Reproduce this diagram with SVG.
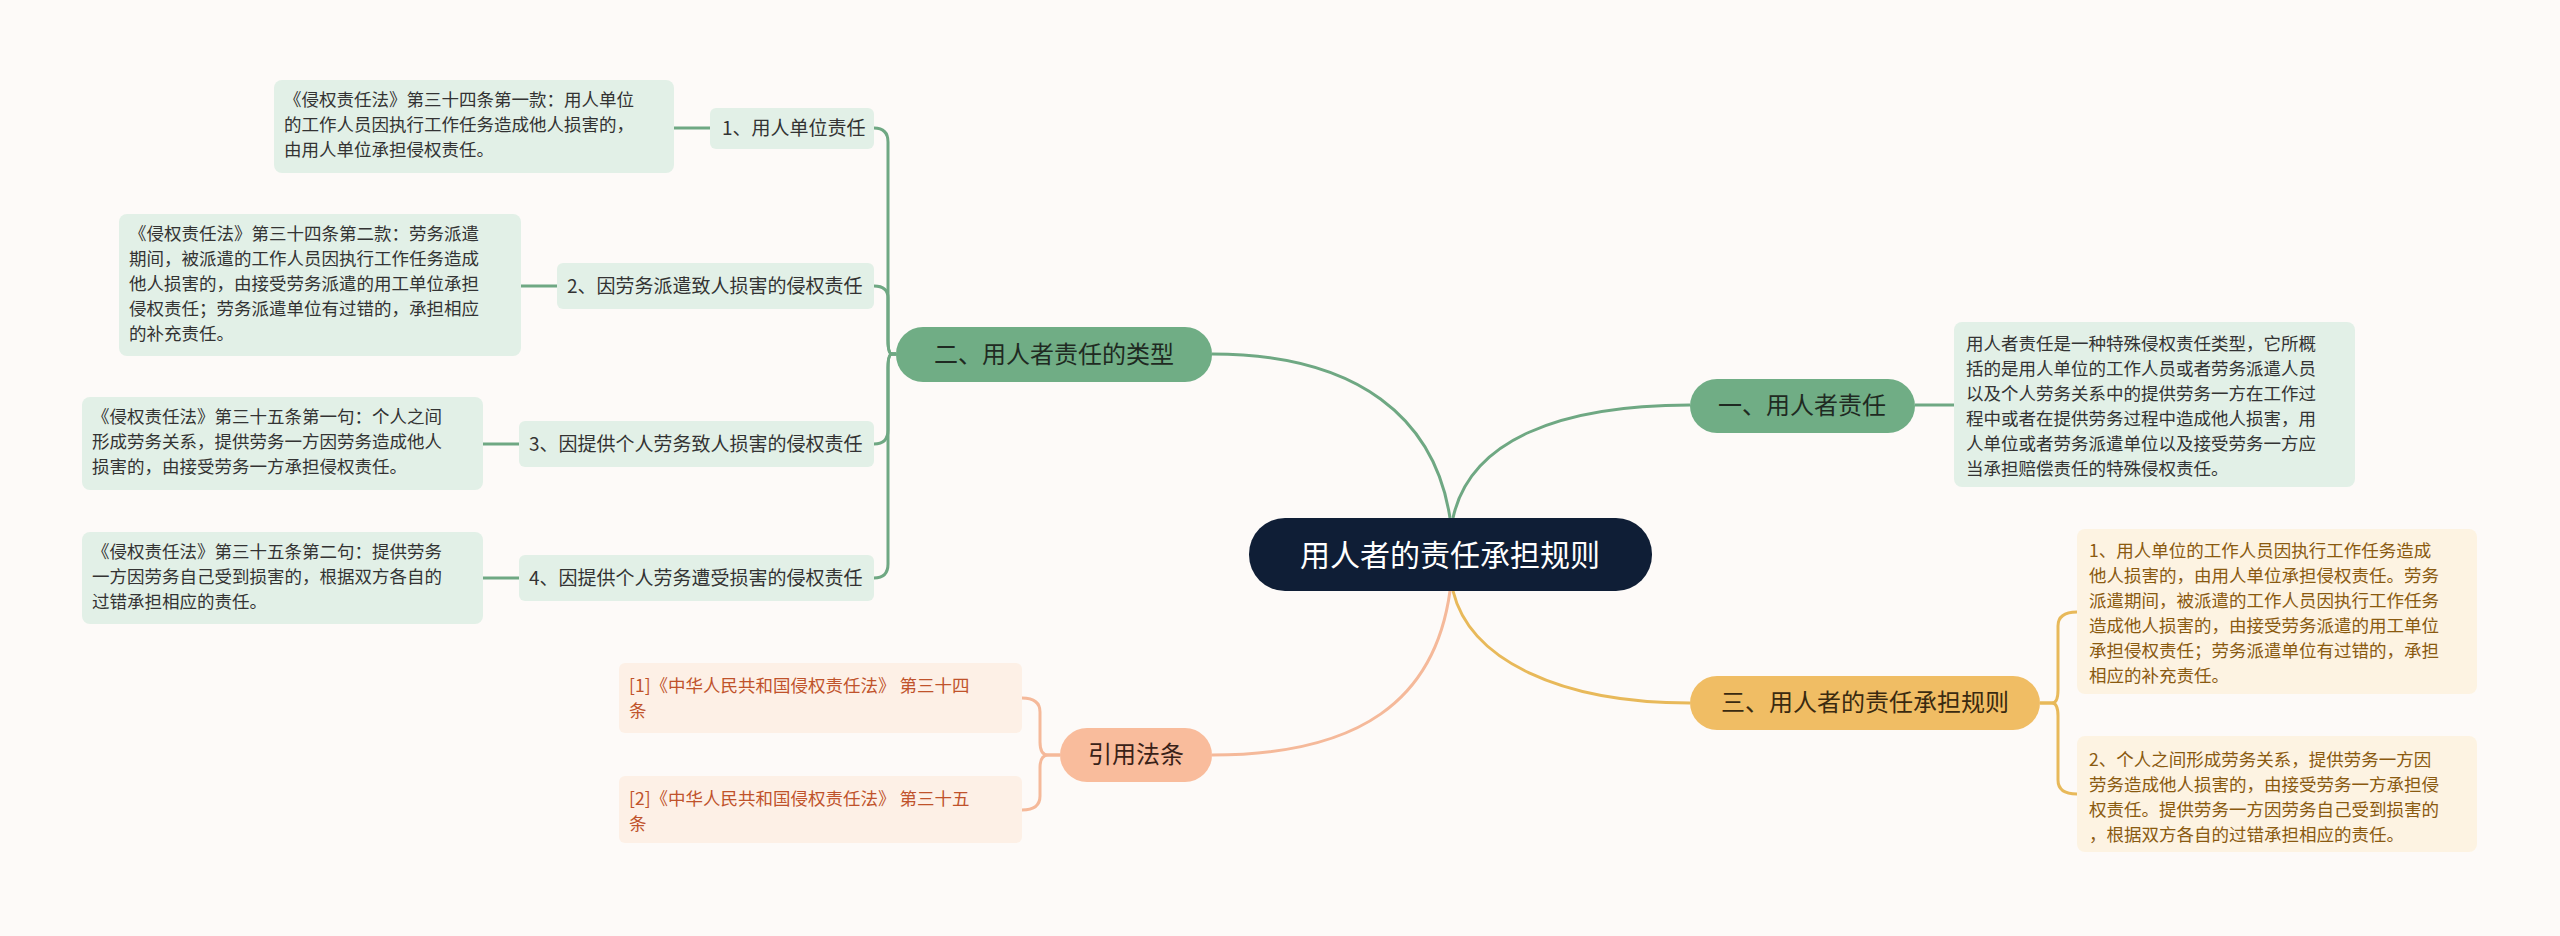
<svg xmlns="http://www.w3.org/2000/svg" width="2560" height="936" viewBox="0 0 2560 936">
<style>
text{font-family:"Noto Sans CJK SC","Noto Sans",sans-serif;}
.g{fill:none;stroke:#6fa883;stroke-width:3}
.o{fill:none;stroke:#e8b95a;stroke-width:3}
.s{fill:none;stroke:#f5b99a;stroke-width:3}
.leaf rect{fill:#e2f0e7}
.leaf text{font-size:19px;fill:#333}
.desc rect{fill:#e2f0e7}
.desc text{font-size:17.5px;fill:#333}
.odesc rect{fill:#fdf3e2}
.odesc text{font-size:17.5px;fill:#8a5a10}
.ref rect{fill:#fdf0e6}
.ref text{font-size:17.5px;fill:#c0532b}
</style>
<rect width="2560" height="936" fill="#fdfaf8"/>
<g id="connectors">
<path class="g" d="M1453,518 C1470,440 1560,405 1690,405"/>
<path class="g" d="M1450,518 C1435,420 1360,354 1212,354"/>
<path class="o" d="M1453,591 C1470,660 1560,703 1690,703"/>
<path class="s" d="M1450,591 C1435,700 1360,755 1212,755"/>
<path class="g" d="M1915,405 H1954"/>
<path class="o" d="M2040,703 H2052 Q2058,703 2058,690 V626 Q2058,612 2077,612"/>
<path class="o" d="M2040,703 H2052 Q2058,703 2058,716 V780 Q2058,794 2077,794"/>
<path class="g" d="M896,354 H892 Q888,354 888,340 V142 Q888,128 874,128"/>
<path class="g" d="M896,354 H892 Q888,354 888,340 V298 Q888,286 874,286"/>
<path class="g" d="M896,354 H892 Q888,354 888,368 V430 Q888,444 874,444"/>
<path class="g" d="M896,354 H892 Q888,354 888,368 V564 Q888,578 874,578"/>
<path class="g" d="M710,128 H674"/>
<path class="g" d="M557,286 H521"/>
<path class="g" d="M519,444 H483"/>
<path class="g" d="M519,578 H483"/>
<path class="s" d="M1060,755 H1048 Q1040,755 1040,742 V712 Q1040,698 1022,698"/>
<path class="s" d="M1060,755 H1048 Q1040,755 1040,768 V796 Q1040,810 1022,810"/>
</g>
<g id="root"><rect x="1249" y="518" width="403" height="73" rx="36" fill="#0f1e36"/><text x="1450" y="566" font-size="30" fill="#fff" text-anchor="middle">用人者的责任承担规则</text></g>
<g id="b1"><rect x="1690" y="379" width="225" height="54" rx="27" fill="#70ad85"/><text x="1802" y="414" font-size="24" fill="#1f2a22" text-anchor="middle">一、用人者责任</text></g>
<g id="b1d" class="desc"><rect x="1954" y="322" width="401" height="165" rx="8"/>
<text x="1966" y="350">用人者责任是一种特殊侵权责任类型，它所概</text>
<text x="1966" y="375">括的是用人单位的工作人员或者劳务派遣人员</text>
<text x="1966" y="400">以及个人劳务关系中的提供劳务一方在工作过</text>
<text x="1966" y="425">程中或者在提供劳务过程中造成他人损害，用</text>
<text x="1966" y="450">人单位或者劳务派遣单位以及接受劳务一方应</text>
<text x="1966" y="475">当承担赔偿责任的特殊侵权责任。</text></g>
<g id="b3"><rect x="1690" y="676" width="350" height="54" rx="27" fill="#f0bd64"/><text x="1865" y="711" font-size="24" fill="#3a2a10" text-anchor="middle">三、用人者的责任承担规则</text></g>
<g id="b3d1" class="odesc"><rect x="2077" y="529" width="400" height="165" rx="8"/>
<text x="2089" y="557">1、用人单位的工作人员因执行工作任务造成</text>
<text x="2089" y="582">他人损害的，由用人单位承担侵权责任。劳务</text>
<text x="2089" y="607">派遣期间，被派遣的工作人员因执行工作任务</text>
<text x="2089" y="632">造成他人损害的，由接受劳务派遣的用工单位</text>
<text x="2089" y="657">承担侵权责任；劳务派遣单位有过错的，承担</text>
<text x="2089" y="682">相应的补充责任。</text></g>
<g id="b3d2" class="odesc"><rect x="2077" y="736" width="400" height="116" rx="8"/>
<text x="2089" y="766">2、个人之间形成劳务关系，提供劳务一方因</text>
<text x="2089" y="791">劳务造成他人损害的，由接受劳务一方承担侵</text>
<text x="2089" y="816">权责任。提供劳务一方因劳务自己受到损害的</text>
<text x="2089" y="841">，根据双方各自的过错承担相应的责任。</text></g>
<g id="b2"><rect x="896" y="327" width="316" height="55" rx="27" fill="#70ad85"/><text x="1054" y="363" font-size="24" fill="#1f2a22" text-anchor="middle">二、用人者责任的类型</text></g>
<g id="l1" class="leaf"><rect x="710" y="108" width="164" height="41" rx="6"/><text x="722" y="135">1、用人单位责任</text></g>
<g id="l1d" class="desc"><rect x="274" y="80" width="400" height="93" rx="8"/>
<text x="284" y="106">《侵权责任法》第三十四条第一款：用人单位</text>
<text x="284" y="131">的工作人员因执行工作任务造成他人损害的，</text>
<text x="284" y="156">由用人单位承担侵权责任。</text></g>
<g id="l2" class="leaf"><rect x="557" y="263" width="317" height="46" rx="6"/><text x="567" y="293">2、因劳务派遣致人损害的侵权责任</text></g>
<g id="l2d" class="desc"><rect x="119" y="214" width="402" height="142" rx="8"/>
<text x="129" y="240">《侵权责任法》第三十四条第二款：劳务派遣</text>
<text x="129" y="265">期间，被派遣的工作人员因执行工作任务造成</text>
<text x="129" y="290">他人损害的，由接受劳务派遣的用工单位承担</text>
<text x="129" y="315">侵权责任；劳务派遣单位有过错的，承担相应</text>
<text x="129" y="340">的补充责任。</text></g>
<g id="l3" class="leaf"><rect x="519" y="421" width="355" height="46" rx="6"/><text x="529" y="451">3、因提供个人劳务致人损害的侵权责任</text></g>
<g id="l3d" class="desc"><rect x="82" y="397" width="401" height="93" rx="8"/>
<text x="92" y="423">《侵权责任法》第三十五条第一句：个人之间</text>
<text x="92" y="448">形成劳务关系，提供劳务一方因劳务造成他人</text>
<text x="92" y="473">损害的，由接受劳务一方承担侵权责任。</text></g>
<g id="l4" class="leaf"><rect x="519" y="555" width="355" height="46" rx="6"/><text x="529" y="585">4、因提供个人劳务遭受损害的侵权责任</text></g>
<g id="l4d" class="desc"><rect x="82" y="532" width="401" height="92" rx="8"/>
<text x="92" y="558">《侵权责任法》第三十五条第二句：提供劳务</text>
<text x="92" y="583">一方因劳务自己受到损害的，根据双方各自的</text>
<text x="92" y="608">过错承担相应的责任。</text></g>
<g id="b4"><rect x="1060" y="728" width="152" height="54" rx="27" fill="#f9bc9c"/><text x="1136" y="763" font-size="24" fill="#3a2218" text-anchor="middle">引用法条</text></g>
<g id="r1" class="ref"><rect x="619" y="663" width="403" height="70" rx="6"/>
<text x="629" y="692">[1]《中华人民共和国侵权责任法》 第三十四</text>
<text x="629" y="717">条</text></g>
<g id="r2" class="ref"><rect x="619" y="776" width="403" height="67" rx="6"/>
<text x="629" y="805">[2]《中华人民共和国侵权责任法》 第三十五</text>
<text x="629" y="830">条</text></g>
</svg>
